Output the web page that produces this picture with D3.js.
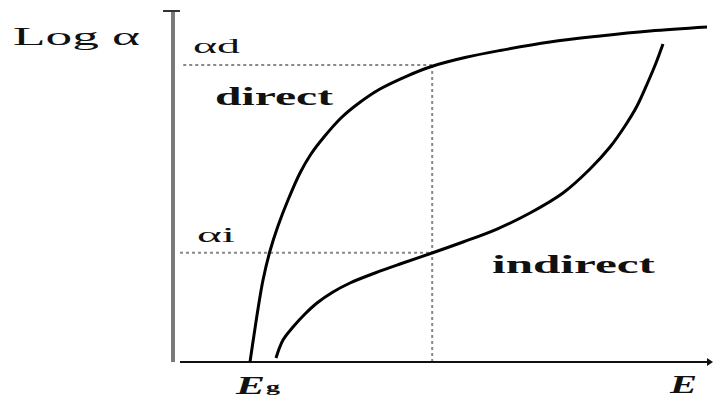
<!DOCTYPE html>
<html>
<head>
<meta charset="utf-8">
<script src="https://cdn.jsdelivr.net/npm/d3@7"></script>
<style>
  html, body { margin: 0; padding: 0; background: #fff; }
  svg { display: block; }
  text { font-family: "Liberation Serif", "DejaVu Serif", serif; fill: #111; }
</style>
</head>
<body>
<svg id="chart" width="714" height="399"></svg>
<script>
// Photon energy E (arbitrary units) and log of the absorption coefficient
const directE     = [1.426, 1.500, 1.574, 1.667, 1.796, 1.944, 2.130, 2.352, 2.556, 2.796, 3.111, 3.444, 3.833, 4.333, 4.815, 5.407, 6.056, 6.981, 7.907, 8.833, 9.889];
const directLogA  = [0.000, 0.769, 1.510, 2.336, 3.162, 3.875, 4.615, 5.385, 5.926, 6.410, 6.952, 7.379, 7.778, 8.148, 8.433, 8.675, 8.875, 9.117, 9.288, 9.430, 9.544];
const indirectE    = [1.907, 2.037, 2.222, 2.444, 2.667, 2.963, 3.278, 3.741, 4.204, 4.796, 5.370, 6.000, 6.611, 7.222, 7.722, 8.093, 8.370, 8.593, 8.796, 8.944, 9.074];
const indirectLogA = [0.114, 0.627, 0.997, 1.368, 1.681, 1.994, 2.251, 2.536, 2.792, 3.105, 3.419, 3.789, 4.245, 4.815, 5.499, 6.125, 6.724, 7.293, 7.977, 8.519, 9.060];

const alphaD = 8.46;
const alphaI = 3.11;
const eRead  = 4.8;

const svg = d3.select("#chart");
const x = d3.scaleLinear().domain([0, 10]).range([173, 713]);
const y = d3.scaleLinear().domain([0, 10]).range([362, 11]);

// Dotted guide lines
const guide = svg.append("g")
  .attr("stroke", "#888").attr("stroke-width", 2).attr("stroke-dasharray", "3,3").attr("fill", "none");
guide.append("line").attr("x1", x(0.19)).attr("x2", x(eRead)).attr("y1", y(alphaD)).attr("y2", y(alphaD));
guide.append("line").attr("x1", x(0.13)).attr("x2", x(eRead)).attr("y1", y(alphaI)).attr("y2", y(alphaI));
guide.append("line").attr("x1", x(eRead)).attr("x2", x(eRead)).attr("y1", y(alphaD)).attr("y2", y(0));

// Axes
svg.append("line").attr("x1", x(0)).attr("x2", x(0)).attr("y1", y(10)).attr("y2", y(0))
  .attr("stroke", "#7a7a7a").attr("stroke-width", 4);
svg.append("line").attr("x1", x(0) - 10).attr("x2", x(0) + 7).attr("y1", y(10)).attr("y2", y(10))
  .attr("stroke", "#333").attr("stroke-width", 2);
svg.append("line").attr("x1", x(0.13)).attr("x2", x(10) - 2).attr("y1", y(0)).attr("y2", y(0))
  .attr("stroke", "#111").attr("stroke-width", 2);
svg.append("path")
  .attr("d", `M${x(10) - 6},${y(0) - 4} L${x(10)},${y(0)} L${x(10) - 6},${y(0) + 4} Z`)
  .attr("fill", "#111");

// Absorption curves
const line = d3.line().x(d => x(d[0])).y(d => y(d[1])).curve(d3.curveCatmullRom.alpha(0.5));
svg.append("path").datum(d3.zip(directE, directLogA)).attr("d", line)
  .attr("fill", "none").attr("stroke", "#000").attr("stroke-width", 3);
svg.append("path").datum(d3.zip(indirectE, indirectLogA)).attr("d", line)
  .attr("fill", "none").attr("stroke", "#000").attr("stroke-width", 3);

// Labels
function label(t, px, py, size, len, opts = {}) {
  return svg.append("text").attr("x", px).attr("y", py)
    .attr("font-size", size)
    .attr("font-weight", opts.weight || "normal")
    .attr("font-style", opts.style || "normal")
    .attr("textLength", len).attr("lengthAdjust", "spacingAndGlyphs")
    .text(t);
}
label("Log α", 13, 45, 25, 127);
label("αd", 193, 53, 20, 47);
label("αi", 197, 242, 20, 38);
label("direct", 215, 105, 26, 118, { weight: "bold" });
label("indirect", 492, 273, 26, 163, { weight: "bold" });
label("E", 236, 394, 25, 29, { style: "italic", weight: "bold" });
label("g", 266, 392, 15, 14, { weight: "bold" });
label("E", 670, 393, 25, 27, { style: "italic", weight: "bold" });
</script>
</body>
</html>
